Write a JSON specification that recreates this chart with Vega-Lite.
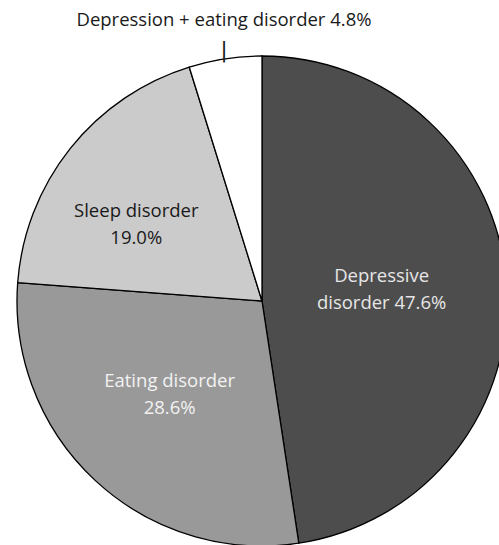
{
  "$schema": "https://vega.github.io/schema/vega-lite/v6.json",
  "autosize": "none",
  "width": 474,
  "height": 488,
  "padding": {"left": 25, "top": 57, "right": 0, "bottom": 0},
  "background": "white",
  "config": {"view": {"stroke": null}, "font": "Open Sans"},
  "data": {
    "values": [
      {"idx": 1, "cat": "Depressive disorder", "pct": 47.6, "label": ["Depressive", "disorder 47.6%"]},
      {"idx": 2, "cat": "Eating disorder", "pct": 28.6, "label": ["Eating disorder", "28.6%"]},
      {"idx": 3, "cat": "Sleep disorder", "pct": 19.0, "label": ["Sleep disorder", "19.0%"]},
      {"idx": 4, "cat": "Depression + eating disorder", "pct": 4.8, "label": ["Depression + eating disorder 4.8%"]}
    ]
  },
  "encoding": {
    "theta": {"field": "pct", "type": "quantitative", "stack": true},
    "order": {"field": "idx", "type": "quantitative"}
  },
  "layer": [
    {
      "mark": {"type": "arc", "outerRadius": 245, "stroke": "black", "strokeWidth": 1.3},
      "encoding": {
        "color": {
          "field": "cat",
          "type": "nominal",
          "scale": {
            "domain": ["Depressive disorder", "Eating disorder", "Sleep disorder", "Depression + eating disorder"],
            "range": ["#4d4d4d", "#999999", "#cbcbcb", "#ffffff"]
          },
          "legend": null
        }
      }
    },
    {
      "mark": {"type": "text", "radius": 130, "dx": -10, "dy": -15, "fontSize": 18.5, "lineHeight": 27, "align": "center", "baseline": "middle", "fill": "#e6e6e6"},
      "encoding": {
        "text": {"condition": {"test": "datum.idx == 1", "field": "label"}, "value": ""}
      }
    },
    {
      "mark": {"type": "text", "radius": 130, "dx": -4, "dy": -15, "fontSize": 18.5, "lineHeight": 27, "align": "center", "baseline": "middle", "fill": "#f2f2f2"},
      "encoding": {
        "text": {"condition": {"test": "datum.idx == 2", "field": "label"}, "value": ""}
      }
    },
    {
      "mark": {"type": "text", "radius": 130, "dx": -24, "dy": -9, "fontSize": 18.5, "lineHeight": 27, "align": "center", "baseline": "middle", "fill": "#1a1a1a"},
      "encoding": {
        "text": {"condition": {"test": "datum.idx == 3", "field": "label"}, "value": ""}
      }
    },
    {
      "mark": {"type": "text", "radius": 253, "dx": 0, "dy": -31, "fontSize": 18.5, "align": "center", "baseline": "middle", "fill": "#1a1a1a"},
      "encoding": {
        "text": {"condition": {"test": "datum.idx == 4", "field": "label"}, "value": ""}
      }
    },
    {
      "mark": {"type": "text", "radius": 252, "dy": -1, "fontSize": 21, "font": "DejaVu Sans", "align": "center", "baseline": "middle", "fill": "#1a1a1a"},
      "encoding": {
        "text": {"condition": {"test": "datum.idx == 4", "value": "|"}, "value": ""}
      }
    }
  ]
}
